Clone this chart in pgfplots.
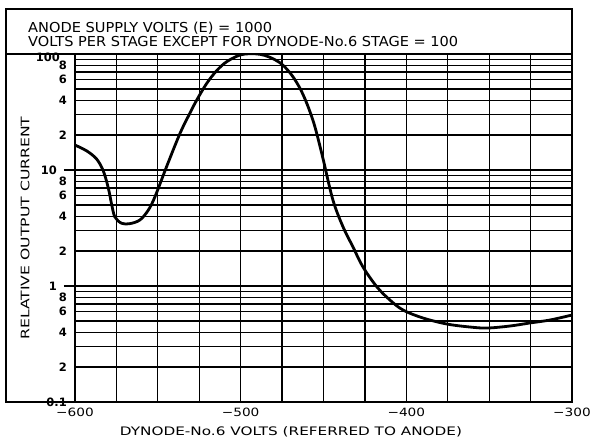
\documentclass[border=0pt]{standalone}
\usepackage{pgfplots}
\pgfplotsset{compat=1.18}
\usepackage{fontspec}
\setmainfont{DejaVu Sans}
\newcommand\fitw[2]{\resizebox{#1}{\height}{#2}}
\newcommand\xl[1]{\scalebox{1.2}[1]{#1}}
\begin{document}
\begin{tikzpicture}
\useasboundingbox (0pt,0pt) rectangle (591pt,438pt);
\begin{axis}[
  at={(75pt,36pt)}, anchor=south west,
  scale only axis, width=497pt, height=348pt,
  xmin=-600, xmax=-300, ymin=0.1, ymax=100, ymode=log,
  xtick={-600,-500,-400,-300},
  xticklabels={\xl{−600},\xl{−500},\xl{−400},\xl{−300}},
  minor xtick={-575,-550,-525,-475,-450,-425,-375,-350,-325},
  ytick={0.1,0.2,0.4,0.6,0.8,2,4,6,8,20,40,60,80,100},
  yticklabels={0.1,2,4,6,8,2,4,6,8,2,4,6,8,{\raisebox{-8pt}[0pt][0pt]{100\hspace{7pt}}}},
  minor ytick={0.3,0.5,0.7,0.9,3,5,7,9,30,50,70,90},
  extra y ticks={1,10},
  extra y tick labels={1,10},
  extra y tick style={major tick length=11pt, tick align=outside, tick style={black, line width=1.3pt}, yticklabel style={xshift=1pt}},
  tick pos=left,
  major tick length=0pt, minor tick length=0pt,
  grid=both,
  major grid style={black, line width=1.3pt},
  minor grid style={black, line width=1.3pt},
  axis line style={black, line width=1.4pt},
  yticklabel style={inner sep=0pt, xshift=-8pt, font=\fontsize{11.5}{12}\selectfont\bfseries},
  xticklabel style={inner sep=0pt, yshift=-6pt, font=\fontsize{11.4}{12}\selectfont},
  clip=true,
]
\addplot[black, line width=2.8pt, smooth, tension=0.55] coordinates {
(-600,16.4) (-592.9,14.6) (-586.9,12.4) (-582.9,9.8) (-579.9,7.0) (-577.8,4.99)
(-575.9,3.93) (-571.8,3.47) (-566.8,3.45) (-560.8,3.71) (-555.8,4.5) (-551.7,5.89)
(-544.7,10.7) (-536.6,20.7) (-530.6,31.0) (-526.5,40.1) (-520.5,55.8) (-514.5,71.8)
(-508.4,85.9) (-500.4,98) (-494.4,100.5) (-488.3,99.4) (-482.3,93.6) (-475.3,82)
(-469.2,65.9) (-464.2,50.6) (-460.1,37.6) (-456.1,26.1) (-453.1,18.2) (-450.1,12.2)
(-444.3,5.5) (-438.2,3.23) (-432.2,2.17) (-426.2,1.46) (-417.7,0.98) (-409.9,0.757)
(-402.0,0.621) (-390.0,0.53) (-375.5,0.47) (-361.6,0.443) (-351.3,0.434)
(-337.4,0.452) (-325.4,0.48) (-313.3,0.509) (-300,0.562)
};
\end{axis}
\draw[line width=1.4pt] (6pt,36pt) rectangle (572pt,429pt);
\draw[line width=1.4pt] (6pt,384pt) -- (75pt,384pt);
\node[anchor=base west, inner sep=0pt, font=\fontsize{13.7}{14}\selectfont] at (28pt,405pt) {\fitw{244pt}{ANODE SUPPLY VOLTS (E) = 1000}};
\node[anchor=base west, inner sep=0pt, font=\fontsize{13.7}{14}\selectfont] at (28pt,391.5pt) {\fitw{430pt}{VOLTS PER STAGE EXCEPT FOR DYNODE-No.6 STAGE = 100}};
\node[anchor=base, inner sep=0pt, font=\fontsize{11.7}{12}\selectfont] at (291pt,2pt) {\fitw{342pt}{DYNODE-No.6 VOLTS (REFERRED TO ANODE)}};
\node[rotate=90, anchor=base, inner sep=0pt, font=\fontsize{11.7}{12}\selectfont] at (29.3pt,210pt) {\fitw{223pt}{RELATIVE OUTPUT CURRENT}};
\end{tikzpicture}
\end{document}
